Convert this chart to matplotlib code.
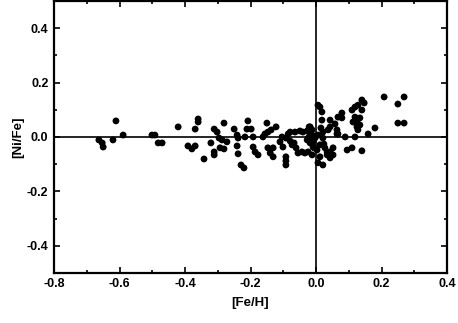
import matplotlib
matplotlib.use("Agg")
import matplotlib.pyplot as plt
from matplotlib.ticker import MultipleLocator, FormatStrFormatter

plt.rcParams['font.family'] = ['Liberation Sans', 'DejaVu Sans']
plt.rcParams['axes.unicode_minus'] = False

# [Fe/H] and [Ni/Fe]
fe_h = [-0.663, -0.653, -0.650, -0.620, -0.611, -0.589, -0.501, -0.492, -0.482, -0.470,
        -0.421, -0.369, -0.360, -0.360, -0.391, -0.379, -0.369, -0.342, -0.321, -0.311,
        -0.311, -0.311, -0.302, -0.296, -0.287, -0.293, -0.281, -0.281, -0.272, -0.250,
        -0.241, -0.241, -0.238, -0.229, -0.220, -0.238, -0.208, -0.211, -0.198, -0.217,
        -0.192, -0.192, -0.186, -0.177, -0.162, -0.156, -0.150, -0.147, -0.137, -0.147,
        -0.140, -0.131, -0.131, -0.122, -0.110, -0.104, -0.101, -0.092, -0.092, -0.092,
        -0.092, -0.085, -0.079, -0.079, -0.073, -0.067, -0.064, -0.061, -0.055, -0.049,
        -0.043, -0.040, -0.034, -0.027, -0.024, -0.018, -0.012, -0.009, -0.006, 0.006,
        0.012, 0.018, -0.021, -0.012, -0.018, -0.009, -0.027, -0.018, -0.003, 0.006,
        0.015, 0.021, 0.018, 0.021, 0.024, 0.027, 0.034, -0.009, -0.024, -0.012,
        0.003, 0.012, 0.012, 0.021, 0.006, 0.043, 0.043, 0.037, 0.034, 0.043,
        0.043, 0.052, 0.052, 0.058, 0.064, 0.064, 0.067, 0.079, 0.079, 0.067,
        0.089, 0.095, 0.110, 0.119, 0.110, 0.119, 0.119, 0.125, 0.113, 0.125,
        0.128, 0.134, 0.134, 0.128, 0.140, 0.147, 0.140, 0.159, 0.180, 0.208,
        0.269, 0.250, 0.250, 0.269, 0.140]
ni_fe = [-0.011, -0.022, -0.037, -0.011, 0.059, 0.007, 0.007, 0.007, -0.022, -0.022,
         0.037, 0.029, 0.055, 0.066, -0.033, -0.044, -0.033, -0.081, -0.022, 0.029,
         -0.055, -0.066, 0.018, -0.004, -0.011, -0.040, 0.051, -0.044, -0.018, 0.029,
         0.007, -0.033, -0.062, -0.103, -0.114, -0.004, 0.059, 0.029, 0.029, 0.000,
         0.000, -0.037, -0.055, -0.066, 0.000, 0.011, 0.051, 0.018, 0.026, -0.040,
         -0.059, -0.040, -0.073, 0.037, -0.018, 0.000, -0.037, -0.004, -0.073, -0.088,
         -0.103, 0.011, 0.018, -0.015, -0.029, -0.022, 0.018, -0.040, -0.059, 0.022,
         -0.055, 0.018, -0.059, 0.022, -0.004, 0.037, 0.007, -0.018, -0.040, 0.117,
         0.110, 0.092, 0.037, 0.026, 0.007, 0.000, -0.011, -0.022, -0.004, 0.007,
         0.033, 0.018, 0.062, -0.004, -0.026, -0.040, -0.055, -0.037, -0.055, -0.066,
         -0.048, -0.029, -0.073, -0.103, -0.095, 0.062, 0.037, 0.026, -0.066, -0.055,
         -0.077, -0.066, -0.040, 0.048, 0.026, 0.011, 0.073, 0.070, 0.088, 0.011,
         0.000, -0.048, -0.040, 0.000, 0.099, 0.110, 0.073, 0.055, 0.055, 0.037,
         0.026, 0.044, 0.070, 0.117, 0.136, 0.125, 0.099, 0.011, 0.033, 0.147,
         0.147, 0.121, 0.051, 0.051, -0.051]

fig = plt.figure(figsize=(4.58, 3.23), dpi=100)
ax = fig.add_axes([0.118, 0.155, 0.858, 0.842])

ax.scatter(fe_h, ni_fe, s=24, color='black', edgecolors='none', zorder=3)
ax.axhline(0, color='black', lw=1.2, zorder=2)
ax.axvline(0, color='black', lw=1.2, zorder=2)

ax.set_xlim(-0.8, 0.4)
ax.set_ylim(-0.5, 0.5)
ax.xaxis.set_major_locator(MultipleLocator(0.2))
ax.xaxis.set_minor_locator(MultipleLocator(0.1))
ax.yaxis.set_major_locator(MultipleLocator(0.2))
ax.yaxis.set_minor_locator(MultipleLocator(0.1))
ax.xaxis.set_major_formatter(FormatStrFormatter('%.1f'))
ax.yaxis.set_major_formatter(FormatStrFormatter('%.1f'))

ax.tick_params(which='both', direction='in', top=True, right=True, width=1.2)
ax.tick_params(which='major', length=4, labelsize=9, pad=4)
ax.tick_params(which='minor', length=2.5)
for lab in ax.get_xticklabels() + ax.get_yticklabels():
    lab.set_fontweight('bold')
for sp in ax.spines.values():
    sp.set_linewidth(1.6)

ax.set_xlabel('[Fe/H]', fontsize=9.5, fontweight='bold', labelpad=5)
ax.set_ylabel('[Ni/Fe]', fontsize=9.5, fontweight='bold', labelpad=2)

fig.savefig('out.png', dpi=100)
